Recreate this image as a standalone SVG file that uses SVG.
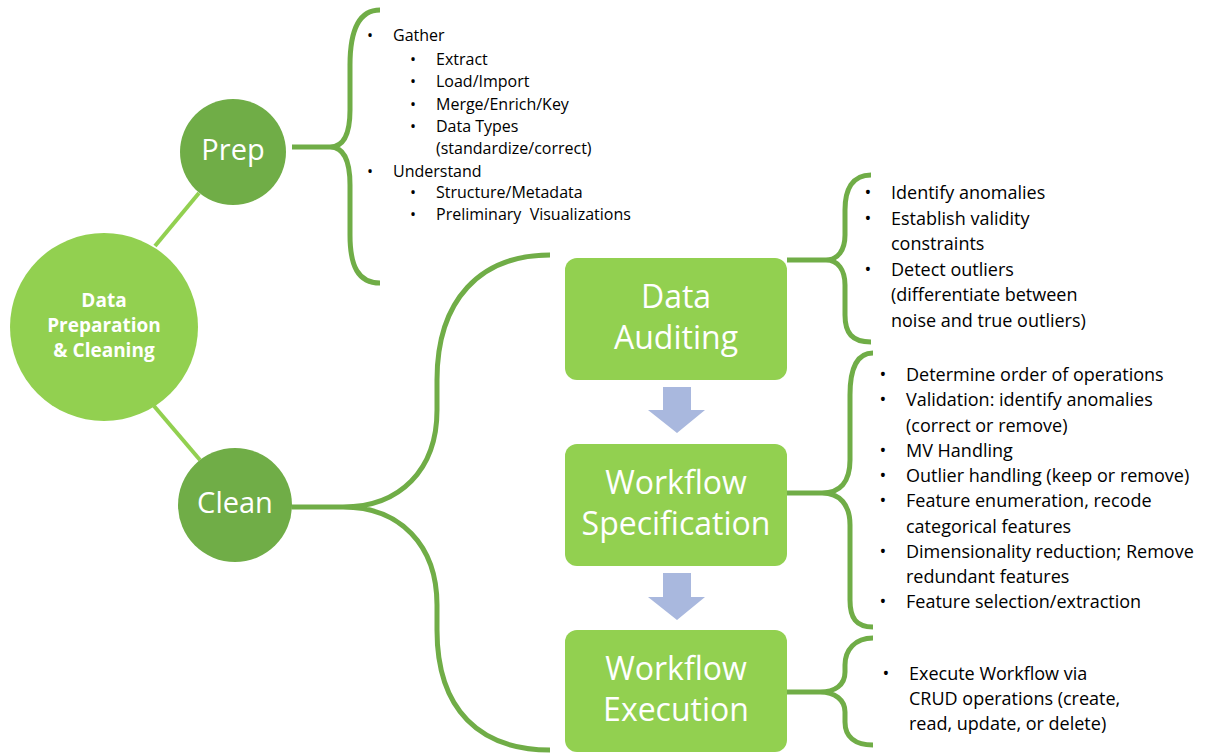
<svg xmlns="http://www.w3.org/2000/svg" width="1207" height="755" viewBox="0 0 1207 755">
<style>
.brace{fill:none;stroke:#70AD47;stroke-width:5;stroke-linecap:butt}
.link{fill:none;stroke:#92D050;stroke-width:4}
.light{fill:#92D050}
.dark{fill:#70AD47}
.arrow{fill:#A9B8DE}
.t{font-family:"Open Sans","Liberation Sans",sans-serif;fill:#000}
.s16{font-size:16px}
.s18{font-size:18px}
.w{font-family:"Open Sans","Liberation Sans",sans-serif;fill:#fff;text-anchor:middle}
.bt{font-size:32px}
.ct{font-size:29px}
.mt{font-size:19px;font-weight:bold}
.b{text-anchor:middle}
</style>
<rect width="1207" height="755" fill="#fff"/>
<g id="connectors">
<line class="link" x1="155" y1="246" x2="199" y2="193"/>
<line class="link" x1="154" y1="406" x2="200" y2="460"/>
<path class="brace" d="M292,147 L330,147 M380,10 C358,10 350,32 350,65 L350,110 C350,135 343,147 330,147 C343,147 350,160 350,185 L350,235 C350,266 358,283 380,283"/>
<path class="brace" d="M292,507 L343,507 M550,255 C480,255 437,300 437,380 L437,410 C437,470 400,507 343,507 C400,507 437,545 437,605 L437,630 C437,710 480,750 550,750"/>
<path class="brace" d="M787,260 L826,260 M871,175 C852,175 845,190 845,210 L845,235 C845,250 838,260 826,260 C838,260 845,270 845,285 L845,315 C845,333 852,342 871,342"/>
<path class="brace" d="M787,493 L822,493 M873,353 C856,353 850,370 850,395 L850,460 C850,482 840,493 822,493 C840,493 850,505 850,525 L850,600 C850,618 856,627 873,627"/>
<path class="brace" d="M787,692 L820,692 M873,638 C855,638 845,650 845,665 L845,672 C845,685 835,692 820,692 C835,692 845,700 845,712 L845,722 C845,737 855,745 873,745"/>
<polygon class="arrow" points="663,387 691,387 691,410 705,410 677,433 648,410 663,410"/>
<polygon class="arrow" points="663,573 691,573 691,597 705,597 677,620 648,597 663,597"/>
</g>
<g id="main">
<circle class="light" cx="104" cy="327" r="94"/>
<text class="w mt" x="104" y="307">Data</text>
<text class="w mt" x="104" y="332">Preparation</text>
<text class="w mt" x="104" y="357">&amp; Cleaning</text>
</g>
<g id="prep">
<circle class="dark" cx="233" cy="152" r="53"/>
<text class="w ct" x="233" y="160">Prep</text>
</g>
<g id="clean">
<circle class="dark" cx="235" cy="505" r="57"/>
<text class="w ct" x="235" y="513">Clean</text>
</g>
<g id="prep-list" class="t s16">
<text class="b" x="370" y="41">•</text><text x="393" y="41">Gather</text>
<text class="b" x="413" y="65">•</text><text x="436" y="65">Extract</text>
<text class="b" x="413" y="87">•</text><text x="436" y="87">Load/Import</text>
<text class="b" x="413" y="110">•</text><text x="436" y="110">Merge/Enrich/Key</text>
<text class="b" x="413" y="132">•</text><text x="436" y="132">Data Types</text>
<text x="436" y="154">(standardize/correct)</text>
<text class="b" x="370" y="177">•</text><text x="393" y="177">Understand</text>
<text class="b" x="413" y="198">•</text><text x="436" y="198">Structure/Metadata</text>
<text class="b" x="413" y="220">•</text><text x="436" y="220" xml:space="preserve">Preliminary  Visualizations</text>
</g>
<g id="data-auditing">
<rect class="light" x="565" y="258" width="222" height="122" rx="12"/>
<text class="w bt" x="676" y="308">Data</text>
<text class="w bt" x="676" y="349">Auditing</text>
</g>
<g id="workflow-specification">
<rect class="light" x="565" y="444" width="222" height="122" rx="12"/>
<text class="w bt" x="676" y="494">Workflow</text>
<text class="w bt" x="676" y="535">Specification</text>
</g>
<g id="workflow-execution">
<rect class="light" x="565" y="630" width="222" height="122" rx="12"/>
<text class="w bt" x="676" y="680">Workflow</text>
<text class="w bt" x="676" y="721">Execution</text>
</g>
<g id="audit-list" class="t s18">
<text class="b" x="868" y="199">•</text><text x="891" y="199">Identify anomalies</text>
<text class="b" x="868" y="225">•</text><text x="891" y="225">Establish validity</text>
<text x="891" y="250">constraints</text>
<text class="b" x="868" y="276">•</text><text x="891" y="276">Detect outliers</text>
<text x="891" y="301">(differentiate between</text>
<text x="891" y="327">noise and true outliers)</text>
</g>
<g id="spec-list" class="t s18">
<text class="b" x="883" y="381">•</text><text x="906" y="381">Determine order of operations</text>
<text class="b" x="883" y="406">•</text><text x="906" y="406">Validation: identify anomalies</text>
<text x="906" y="432">(correct or remove)</text>
<text class="b" x="883" y="457">•</text><text x="906" y="457">MV Handling</text>
<text class="b" x="883" y="482">•</text><text x="906" y="482">Outlier handling (keep or remove)</text>
<text class="b" x="883" y="507">•</text><text x="906" y="507">Feature enumeration, recode</text>
<text x="906" y="533">categorical features</text>
<text class="b" x="883" y="558">•</text><text x="906" y="558">Dimensionality reduction; Remove</text>
<text x="906" y="583">redundant features</text>
<text class="b" x="883" y="608">•</text><text x="906" y="608">Feature selection/extraction</text>
</g>
<g id="exec-list" class="t s18">
<text class="b" x="886" y="680">•</text><text x="909" y="680">Execute Workflow via</text>
<text x="909" y="705">CRUD operations (create,</text>
<text x="909" y="730">read, update, or delete)</text>
</g>
</svg>
